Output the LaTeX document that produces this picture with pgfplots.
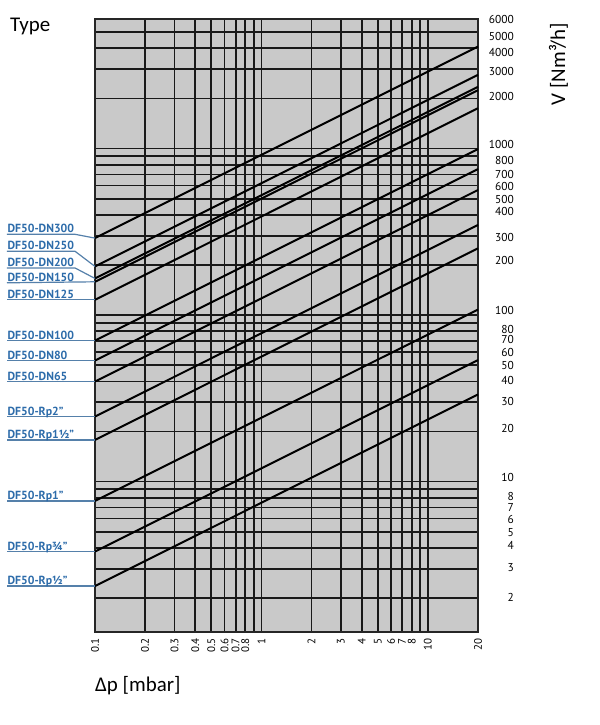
\documentclass[border=0pt]{standalone}
\usepackage{fontspec}
\setmainfont{Carlito}
\newfontfamily\dinfont{PT Sans}
\usepackage{pgfplots}
\pgfplotsset{compat=1.18}
\definecolor{chartgray}{RGB}{201,201,201}
\definecolor{labelblue}{RGB}{45,108,170}
\definecolor{leaderblue}{RGB}{85,128,170}
\newcommand{\rl}[2]{\raisebox{#1bp}{#2}}

\begin{document}
\begin{tikzpicture}[
    leader/.style={leaderblue, line width=1.2bp},
    lab/.style={labelblue, font=\dinfont\bfseries\fontsize{11.8}{13}\selectfont, anchor=base west, inner sep=0pt, yshift=1.5bp},
]
\path[use as bounding box] (0,0) rectangle (600bp,-725bp);
\begin{axis}[
    at={(95bp,-632bp)}, anchor=south west,
    scale only axis, width=383bp, height=613bp,
    xmode=log, ymode=log,
    xmin=0.1, xmax=20, ymin=1.25, ymax=6000,
    axis background/.style={fill=chartgray},
    axis line style={black!85, line width=1.2bp},
    grid=both,
    major grid style={black!90, line width=1.7bp},
    minor grid style={black!90, line width=1.7bp},
    major tick length=0pt, minor tick length=0pt,
    xtick={0.1,0.2,0.3,0.4,0.5,0.6,0.7,0.8,1,2,3,4,5,6,7,8,10,20},
    xticklabels={0.1,0.2,0.3,0.4,0.5,0.6,0.7,0.8,1,2,3,4,5,6,7,8,10,20},
    minor xtick={0.9,9},
    ytick={2,3,4,5,6,7,8,10,20,30,40,50,60,70,80,100,200,300,400,500,600,700,800,1000,2000,3000,4000,5000,6000},
    yticklabels={\rl{1}{2},\rl{1.5}{3},\rl{2}{4},\rl{-0.7}{5},\rl{-0.5}{6},\rl{0}{7},\rl{1}{8},\rl{4}{10},
        \rl{2.6}{20},\rl{1}{30},\rl{1}{40},\rl{-0.5}{50},\rl{0}{60},\rl{1}{70},\rl{2}{80},\rl{4.5}{100},
        \rl{4}{200},\rl{-2}{300},\rl{3}{400},\rl{-1}{500},\rl{-1}{600},\rl{0}{700},\rl{4}{800},\rl{4}{1000},
        \rl{2}{2000},\rl{-2}{3000},\rl{-4}{4000},\rl{-4}{5000},\rl{0}{6000}},
    minor ytick={9,90,900},
    yticklabel pos=right,
    xticklabel style={font=\dinfont\fontsize{11}{12}\selectfont, yshift=-6bp, rotate=90, anchor=east, inner sep=0pt},
    yticklabel style={font=\dinfont\fontsize{11.5}{13}\selectfont, anchor=base east, xshift=36bp, yshift=-4bp, inner sep=0pt},
    clip=false,
    no markers,
    every axis plot post/.append style={black, solid, line width=2bp},
]
% V at 0.1 mbar and at 20 mbar (slope 1/2 in log-log)
\addplot coordinates {(0.1,290) (20,4101)};   % DN300
\addplot coordinates {(0.1,196) (20,2772)};   % DN250
\addplot coordinates {(0.1,166) (20,2348)};   % DN200
\addplot coordinates {(0.1,158.5) (20,2241)}; % DN150
\addplot coordinates {(0.1,123.6) (20,1748)}; % DN125
\addplot coordinates {(0.1,70.3) (20,994)};   % DN100
\addplot coordinates {(0.1,53.3) (20,754)};   % DN80
\addplot coordinates {(0.1,39.9) (20,564)};   % DN65
\addplot coordinates {(0.1,24.6) (20,348)};   % Rp2
\addplot coordinates {(0.1,17.8) (20,252)};   % Rp1 1/2
\addplot coordinates {(0.1,7.66) (20,108)};   % Rp1
\addplot coordinates {(0.1,3.80) (20,53.7)};  % Rp3/4
\addplot coordinates {(0.1,2.36) (20,33.4)};  % Rp1/2

% type labels with leaders
\draw[leader] (axis cs:0.1,290) -- ++(-20bp,3.8bp) -- ++(-68bp,0bp) node[lab] {DF50-DN300};
\draw[leader] (axis cs:0.1,196) -- ++(-20bp,15.2bp) -- ++(-68bp,0bp) node[lab] {DF50-DN250};
\draw[leader] (axis cs:0.1,166) -- ++(-20bp,10.5bp) -- ++(-68bp,0bp) node[lab] {DF50-DN200};
\draw[leader] (axis cs:0.1,158.5) -- ++(-88bp,-1bp) node[lab] {DF50-DN150};
\draw[leader] (axis cs:0.1,123.6) -- ++(-88bp,0bp) node[lab] {DF50-DN125};
\draw[leader] (axis cs:0.1,70.3) -- ++(-88bp,0bp) node[lab] {DF50-DN100};
\draw[leader] (axis cs:0.1,53.3) -- ++(-88bp,0bp) node[lab] {DF50-DN80};
\draw[leader] (axis cs:0.1,39.9) -- ++(-88bp,0bp) node[lab] {DF50-DN65};
\draw[leader] (axis cs:0.1,24.6) -- ++(-88bp,0bp) node[lab] {DF50-Rp2”};
\draw[leader] (axis cs:0.1,17.8) -- ++(-88bp,0bp) node[lab] {DF50-Rp1½”};
\draw[leader] (axis cs:0.1,7.66) -- ++(-88bp,0bp) node[lab] {DF50-Rp1”};
\draw[leader] (axis cs:0.1,3.80) -- ++(-88bp,0bp) node[lab] {DF50-Rp¾”};
\draw[leader] (axis cs:0.1,2.36) -- ++(-88bp,0bp) node[lab] {DF50-Rp½”};
\end{axis}
\node[anchor=base west, inner sep=0pt, font=\fontsize{21}{24}\selectfont] at (10bp,-31bp) {Type};
\node[anchor=base west, inner sep=0pt, font=\fontsize{21}{24}\selectfont] at (95bp,-691bp) {Δp [mbar]};
\node[anchor=base, rotate=90, inner sep=0pt, font=\fontsize{21}{24}\selectfont] at (565bp,-64bp) {V [Nm³/h]};
\end{tikzpicture}
\end{document}
